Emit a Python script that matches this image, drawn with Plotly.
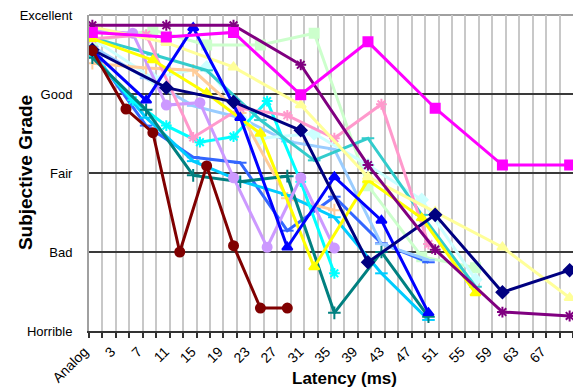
import plotly.graph_objects as go

# Latency in ms; -1 stands for the "Analog" reference condition
grade_names = ["Horrible", "Bad", "Fair", "Good", "Excellent"]
grade_values = [1, 2, 3, 4, 5]
tick_latency = [-1, 3, 7, 11, 15, 19, 23, 27, 31, 35, 39, 43, 47, 51, 55, 59, 63, 67]
tick_text = ["Analog"] + [str(v) for v in tick_latency[1:]]

# one list pair per listener: latency (ms) and grade (1 = Horrible ... 5 = Excellent)
lat_step4 = [-1, 4, 8, 12, 16, 20, 24, 28]
lat_step5 = [-1, 5, 10, 15, 20, 25, 30, 35]
lat_step7 = [-1, 7, 14, 21, 28, 35, 42, 49]
lat_step7_short = [-1, 7, 14, 21, 28, 35]
lat_step8 = [-1, 8, 16, 24, 32, 40, 48, 56]
lat_step10 = [-1, 10, 20, 30, 40, 50, 60, 70]

grade_maroon = [4.55, 3.81, 3.51, 2.0, 3.09, 2.08, 1.29, 1.29]
grade_purple = [4.87, 4.87, 4.87, 4.37, 3.1, 2.03, 1.24, 1.19]
grade_magenta = [4.78, 4.72, 4.78, 3.99, 4.66, 3.82, 3.10, 3.10]
grade_navy = [4.56, 4.08, 3.9, 3.54, 1.87, 2.47, 1.49, 1.77]
grade_blue = [4.55, 3.92, 4.84, 3.7, 2.06, 2.95, 2.4, 1.23]
grade_yellow = [4.7, 4.43, 4.01, 3.5, 1.81, 2.91, 2.43, 1.48]
grade_lightyellow = [4.85, 4.65, 4.34, 3.86, 2.95, 2.51, 2.06, 1.42]
grade_lightgreen = [4.66, 4.81, 4.62, 4.62, 4.77, 2.84, 1.94, 1.80]
grade_turquoise = [4.71, 4.5, 4.3, 3.67, 3.16, 3.44, 2.47, 1.56]
grade_teal = [4.46, 3.8, 2.97, 2.89, 2.96, 1.23, 2.0, 1.18]
grade_lavender = [4.8, 4.77, 3.86, 3.89, 2.94, 2.06, 2.94, 2.05]
grade_pink = [4.7, 4.75, 3.45, 3.82, 3.73, 3.44, 3.87, 2.1]
grade_skyblue = [4.5, 3.7, 3.15, 2.9, 2.72, 2.44, 1.73, 1.14]
grade_royal = [4.55, 3.6, 3.2, 3.13, 2.27, 2.7, 2.11, 1.87]
grade_lightblue = [4.6, 4.2, 3.85, 3.7, 3.4, 3.3, 2.1, 1.9]
grade_palecyan = [4.7, 4.2, 4.34, 3.44, 3.5, 3.1, 2.66, 1.65]
grade_peach = [4.39, 4.33, 4.3, 3.76, 2.68, 2.53]
grade_cyan = [4.5, 3.92, 3.6, 3.39, 3.46, 3.91, 2.89, 1.73]

series = [
    (lat_step8, grade_lightgreen, "#ccffcc", "square"),
    (lat_step7, grade_royal, "#3366ff", "line-ew-open"),
    (lat_step7, grade_lightblue, "#99ccff", "line-ew-open"),
    (lat_step8, grade_palecyan, "#ccffff", "diamond"),
    (lat_step7_short, grade_peach, "#ffcc99", "cross-thin-open"),
    (lat_step7, grade_skyblue, "#00ccff", "line-ew-open"),
    (lat_step5, grade_cyan, "#00ffff", "asterisk-open"),
    (lat_step8, grade_turquoise, "#33cccc", "line-ew-open"),
    (lat_step7, grade_teal, "#008080", "cross-thin-open"),
    (lat_step5, grade_lavender, "#cc99ff", "circle"),
    (lat_step7, grade_pink, "#ff99cc", "asterisk-open"),
    (lat_step8, grade_yellow, "#ffff00", "triangle-up"),
    (lat_step10, grade_lightyellow, "#ffff99", "triangle-up"),
    (lat_step7, grade_blue, "#0000ff", "triangle-up"),
    (lat_step10, grade_navy, "#000080", "diamond"),
    (lat_step10, grade_purple, "#800080", "asterisk-open"),
    (lat_step10, grade_magenta, "#ff00ff", "square"),
    (lat_step4, grade_maroon, "#800000", "circle"),
]

fig = go.Figure()
for xs, ys, color, symbol in series:
    fig.add_trace(go.Scatter(
        x=xs, y=ys, mode="lines+markers",
        line=dict(color=color, width=3),
        marker=dict(color=color, symbol=symbol, size=9,
                    line=dict(color=color, width=2)),
        showlegend=False,
    ))

grid_positions = [-1.5 + 2 * k for k in range(37)]

fig.update_layout(
    width=573, height=389,
    margin=dict(l=89, r=0, t=15, b=58),
    paper_bgcolor="white", plot_bgcolor="white",
    font=dict(family="Liberation Sans, Arial, sans-serif", color="black", size=13),
    xaxis=dict(
        range=[-1.5, 70.5], tickmode="array", tickvals=tick_latency, ticktext=tick_text,
        tickangle=-45, showgrid=False, zeroline=False, ticks="", automargin=False,
        showline=True, linecolor="#333333", linewidth=2,
        tickfont=dict(size=14), ticklabelstandoff=5, ticklabelshift=-8,
        minor=dict(tickmode="array", tickvals=grid_positions, showgrid=True,
                   gridcolor="#c8c8c8", gridwidth=2, ticks="outside",
                   ticklen=5, tickcolor="#333333", tickwidth=2),
    ),
    yaxis=dict(
        range=[1, 5], tickmode="array", tickvals=grade_values, ticktext=grade_names,
        showgrid=True, gridcolor="#3a3a3a", gridwidth=2, zeroline=False, automargin=False,
        showline=True, linecolor="#a0a0a0", linewidth=2, ticks="",
        tickfont=dict(size=13), ticklabelstandoff=12,
    ),
    shapes=[dict(type="line", xref="paper", yref="paper", x0=0, x1=1, y0=1, y1=1,
                 line=dict(color="#a0a0a0", width=2), layer="below")],
    annotations=[
        dict(text="<b>Latency (ms)</b>", xref="paper", yref="paper", x=0.528, y=-0.113,
             xanchor="center", yanchor="top", showarrow=False, font=dict(size=17)),
        dict(text="<b>Subjective Grade</b>", xref="paper", yref="paper", x=-0.132, y=0.5,
             xanchor="center", yanchor="middle", textangle=-90, showarrow=False,
             font=dict(size=19)),
    ],
)

fig.write_html("out.html")
